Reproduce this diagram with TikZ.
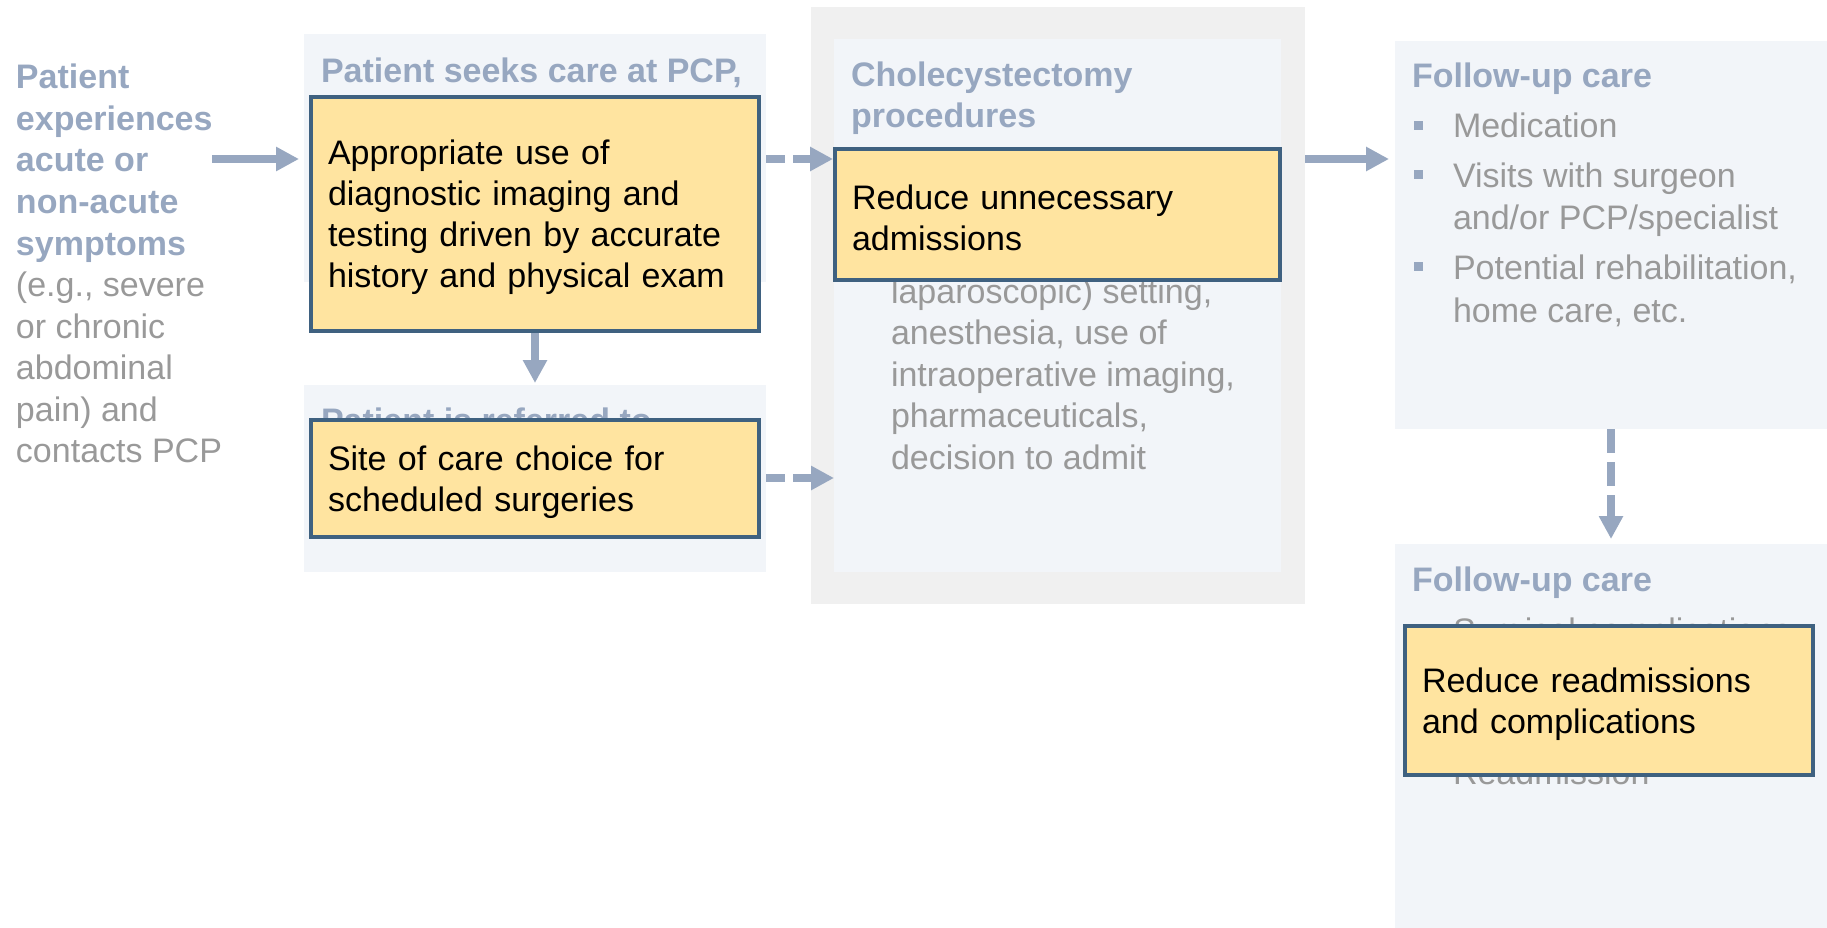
\documentclass[tikz,border=0pt]{standalone}
\usepackage{fontspec}
\setmainfont{Liberation Sans}
\usetikzlibrary{arrows.meta}

\definecolor{headcol}{RGB}{151,167,192}
\definecolor{notecol}{RGB}{153,153,153}
\definecolor{panelcol}{RGB}{242,245,249}
\definecolor{stagecol}{RGB}{240,240,240}
\definecolor{goalcol}{RGB}{255,228,160}
\definecolor{edgecol}{RGB}{63,97,128}

\tikzset{
  txt/.style={inner sep=0, outer sep=0, anchor=base west, font=\fontsize{34}{41}\selectfont},
  headtxt/.style={txt, text=headcol, font=\fontsize{34}{41}\selectfont\bfseries},
  notetxt/.style={txt, text=notecol},
  panel/.style={fill=panelcol, inner sep=0, outer sep=0, anchor=north west},
  stagebox/.style={fill=stagecol, inner sep=0, outer sep=0, anchor=north west},
  goal/.style={draw=edgecol, line width=4pt, fill=goalcol, anchor=north west, outer sep=0,
    inner xsep=17pt, inner ysep=0, align=left, text=black, font=\fontsize{34}{41}\selectfont,
    execute at begin node=\rule{0pt}{32pt}},
  arr/.style={draw=headcol, line width=8pt, -{Triangle[length=23pt,width=23pt]}},
  darr/.style={arr, dash pattern=on 19pt off 8pt},
}

\begin{document}
\begin{tikzpicture}[x=1pt,y=-1pt]
\useasboundingbox (0,0) rectangle (1827,928);

% stage panels
\node[panel, minimum width=462pt, minimum height=248pt] (pcp) at (304,34) {};
\node[panel, minimum width=462pt, minimum height=187pt] (referral) at (304,385) {};
\node[stagebox, minimum width=494pt, minimum height=597pt] (surgery) at (811,7) {};
\node[panel, minimum width=447pt, minimum height=533pt] (chole) at (834,39) {};
\node[panel, minimum width=432pt, minimum height=388pt] (followA) at (1395,41) {};
\node[panel, minimum width=432pt, minimum height=384pt] (followB) at (1395,544) {};

% patient column
\foreach \txt [count=\i] in {Patient, experiences, acute or, non-acute, symptoms}
  \node[headtxt] (sym\i) at (16,47.5+41.5*\i) {\txt};
\foreach \txt [count=\i] in {{(e.g., severe}, or chronic, abdominal, {pain) and}, contacts PCP}
  \node[notetxt] (pain\i) at (16,255+41.5*\i) {\txt};

% stage headings
\node[headtxt] (pcphead) at (321,83) {Patient seeks care at PCP,};
\node[headtxt] (refhead) at (321,432) {Patient is referred to};
\node[headtxt] (cholehead) at (851,87) {Cholecystectomy};
\node[headtxt] (cholehead2) at (851,128) {procedures};
\node[headtxt] (fuhead) at (1412,88) {Follow-up care};
\node[headtxt] (fuhead2) at (1412,591) {Follow-up care};

% procedure details
\foreach \txt [count=\i] in {{laparoscopic) setting,}, {anesthesia, use of}, {intraoperative imaging,}, {pharmaceuticals,}, decision to admit}
  \node[notetxt] (step\i) at (891,261.5+41.5*\i) {\txt};

% follow-up bullets
\foreach \yy in {125.5,174.5,266.5,629.5,771.5}
  \fill[headcol] (1413.75,\yy-4.75) rectangle +(9.5,9.5);
\node[notetxt] (fu1) at (1453,138) {Medication};
\node[notetxt] (fu2) at (1453,187) {Visits with surgeon};
\node[notetxt] (fu3) at (1453,229) {and/or PCP/specialist};
\node[notetxt] (fu4) at (1453,279) {Potential rehabilitation,};
\node[notetxt] (fu5) at (1453,322) {home care, etc.};
\node[notetxt] (fu6) at (1453,642) {Surgical complications};
\node[notetxt] (fu7) at (1453,784) {Readmission};

% improvement goals
\node[goal, minimum width=448pt, minimum height=234pt, text width=414pt] (imaging) at (311,97)
  {Appropriate use of\\diagnostic imaging and\\testing driven by accurate\\history and physical exam};
\node[goal, minimum width=448pt, minimum height=117pt, text width=414pt] (site) at (311,420)
  {Site of care choice for\\scheduled surgeries};
\node[goal, minimum width=445pt, minimum height=131pt, text width=411pt] (lessadm) at (835,149)
  {Reduce unnecessary\\admissions};
\node[goal, minimum width=408pt, minimum height=149pt, text width=374pt] (lessreadm) at (1405,626)
  {Reduce readmissions\\and complications};

% flow arrows
\coordinate (row) at (212,159);
\coordinate (lowrow) at (0,478);
\draw[arr, shorten >=12pt] (row) -- (imaging.west |- row);
\draw[arr, shorten <=2pt, shorten >=2pt] (imaging.south) -- (referral.north);
\draw[darr, shorten <=7pt, shorten >=2pt] (imaging.east |- row) -- (lessadm.west |- row);
\draw[darr, shorten <=7pt] (site.east |- lowrow) -- (chole.west |- lowrow);
\draw[arr, shorten >=6pt] (surgery.east |- row) -- (followA.west |- row);
\draw[darr, dash pattern=on 24pt off 9pt, shorten >=5pt] (followA.south) -- (followB.north);
\end{tikzpicture}
\end{document}
